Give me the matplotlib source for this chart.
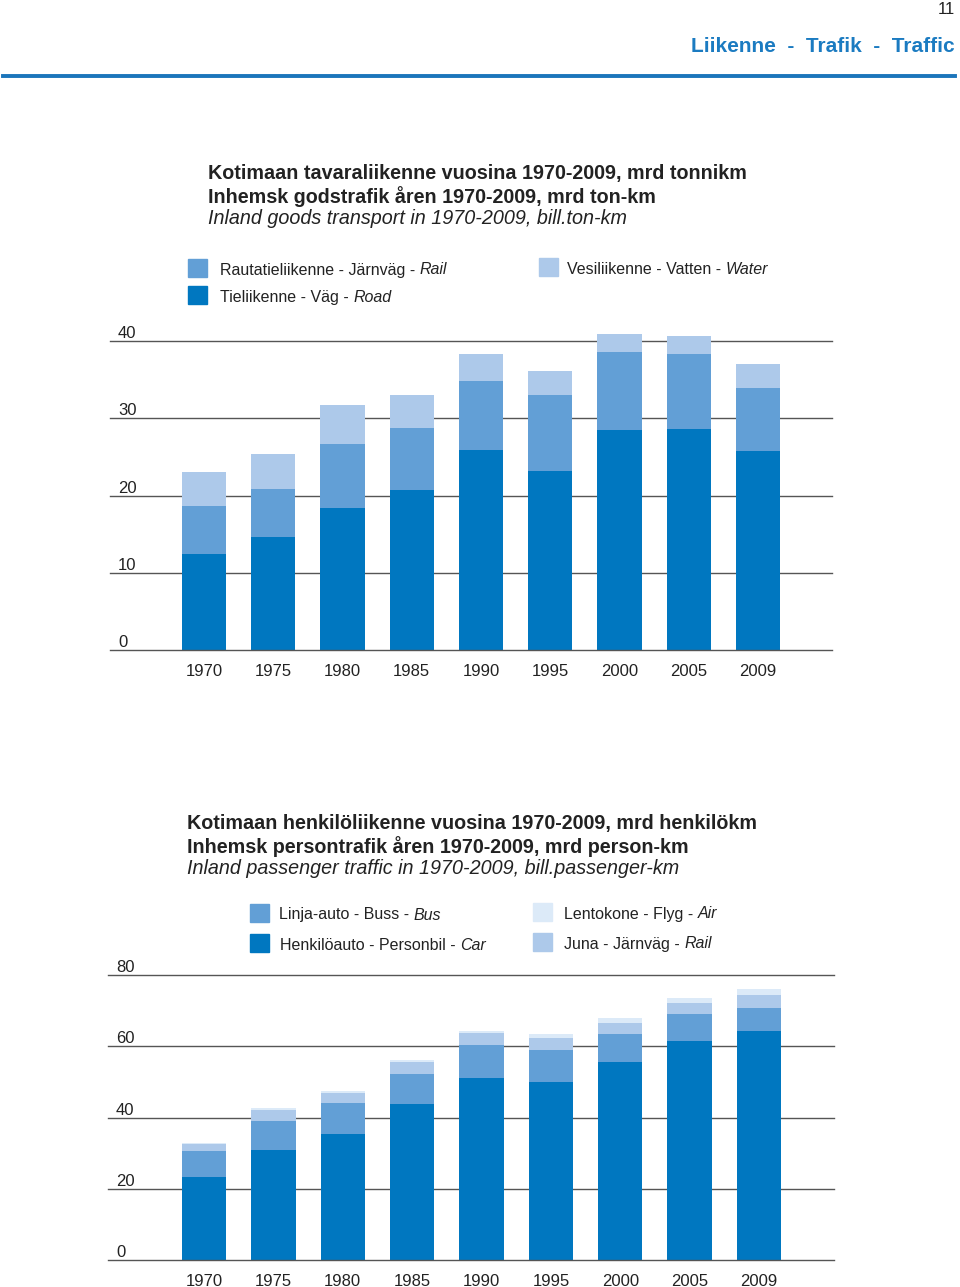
import matplotlib
matplotlib.use("Agg")
import matplotlib.pyplot as plt
from matplotlib.patches import Rectangle
import numpy as np

plt.rcParams['font.family'] = ['Liberation Sans', 'DejaVu Sans']

# data (billions)
years = ['1970', '1975', '1980', '1985', '1990', '1995', '2000', '2005', '2009']

goods_road = [12.4, 14.6, 18.4, 20.75, 25.9, 23.2, 28.5, 28.6, 25.75]
goods_rail = [6.2, 6.3, 8.3, 8.05, 8.9, 9.8, 10.1, 9.7, 8.25]
goods_water = [4.5, 4.5, 5.1, 4.2, 3.55, 3.2, 2.3, 2.4, 3.0]

pass_car = [23.4, 31.0, 35.5, 43.7, 51.1, 49.9, 55.7, 61.4, 64.3]
pass_bus = [7.1, 8.0, 8.5, 8.5, 9.2, 9.2, 7.9, 7.8, 6.6]
pass_rail = [2.2, 3.2, 2.9, 3.3, 3.35, 3.3, 3.1, 2.9, 3.5]
pass_air = [0.3, 0.45, 0.65, 0.75, 0.75, 1.0, 1.2, 1.5, 1.8]

goods_ticks = [0, 10, 20, 30, 40]
pass_ticks = [0, 20, 40, 60, 80]

C_DARK = '#0077c0'
C_MID = '#629fd6'
C_LIGHT = '#adc9ea'
C_PALE = '#dceaf8'
TXT = '#222222'

W, H = 960, 1287
fig = plt.figure(figsize=(W / 100, H / 100), dpi=100)


def fx(px):
    return px / W


def fy(py):
    return 1 - py / H


# page header
fig.text(fx(955), fy(10), '11', ha='right', va='center', fontsize=12, color=TXT)
fig.text(fx(955), fy(47), 'Liikenne  -  Trafik  -  Traffic', ha='right', va='center',
         fontsize=15, fontweight='bold', color='#1b7bc1')
fig.add_artist(plt.Line2D([fx(3), fx(955)], [fy(76), fy(76)], color='#1b75bb', lw=2.8))


def legend_item(x, y, color, plain, italic, gap=32):
    fig.add_artist(Rectangle((fx(x), fy(y + 18)), 19 / W, 18 / H, color=color,
                             transform=fig.transFigure))
    t = fig.text(fx(x + gap), fy(y + 11), plain, ha='left', va='center', fontsize=11.5, color=TXT)
    fig.canvas.draw()
    bb = t.get_window_extent()
    fig.text(bb.x1 / W, fy(y + 11), italic, ha='left', va='center', fontsize=11.5,
             color=TXT, style='italic')


def stacked(ax, series, colors, ticks, ymax, left, right):
    x = np.arange(len(years))
    bottom = np.zeros(len(years))
    for vals, c in zip(series, colors):
        ax.bar(x, vals, width=0.64, bottom=bottom, color=c, zorder=2)
        bottom += np.array(vals)
    for t in ticks:
        ax.axhline(t, color='#555555', lw=1, zorder=3 if t == 0 else 1, clip_on=False)
        ax.text(0.011, t, str(t), transform=ax.get_yaxis_transform(), ha='left',
                va='bottom', fontsize=12, color=TXT)
    ax.set_xlim(left, right)
    ax.set_ylim(0, ymax)
    ax.set_xticks(x)
    ax.set_xticklabels(years, fontsize=12, color=TXT)
    ax.tick_params(axis='x', length=0, pad=10)
    ax.set_yticks([])
    for s in ax.spines.values():
        s.set_visible(False)


# ---- goods transport ----
fig.text(fx(208), fy(174), 'Kotimaan tavaraliikenne vuosina 1970-2009, mrd tonnikm',
         fontsize=14.2, fontweight='bold', va='center', color=TXT)
fig.text(fx(208), fy(197), 'Inhemsk godstrafik åren 1970-2009, mrd ton-km',
         fontsize=14.2, fontweight='bold', va='center', color=TXT)
fig.text(fx(208), fy(219), 'Inland goods transport in 1970-2009, bill.ton-km',
         fontsize=14.2, style='italic', va='center', color=TXT)

legend_item(188, 259, C_MID, 'Rautatieliikenne - Järnväg - ', 'Rail')
legend_item(188, 286, C_DARK, 'Tieliikenne - Väg - ', 'Road')
legend_item(539, 258, C_LIGHT, 'Vesiliikenne - Vatten - ', 'Water', gap=28)

ymax1 = 41.5
ax1 = fig.add_axes([fx(110), fy(650), fx(832) - fx(110), ymax1 * 7.72 / H])
stacked(ax1, [goods_road, goods_rail, goods_water], [C_DARK, C_MID, C_LIGHT],
        goods_ticks, ymax1, -1.357, 9.07)

# ---- passenger traffic ----
fig.text(fx(187), fy(824), 'Kotimaan henkilöliikenne vuosina 1970-2009, mrd henkilökm',
         fontsize=14.2, fontweight='bold', va='center', color=TXT)
fig.text(fx(187), fy(847), 'Inhemsk persontrafik åren 1970-2009, mrd person-km',
         fontsize=14.2, fontweight='bold', va='center', color=TXT)
fig.text(fx(187), fy(869), 'Inland passenger traffic in 1970-2009, bill.passenger-km',
         fontsize=14.2, style='italic', va='center', color=TXT)

legend_item(250, 904, C_MID, 'Linja-auto - Buss - ', 'Bus', gap=29)
legend_item(250, 934, C_DARK, 'Henkilöauto - Personbil - ', 'Car', gap=30)
legend_item(533, 903, C_PALE, 'Lentokone - Flyg - ', 'Air', gap=31)
legend_item(533, 933, C_LIGHT, 'Juna - Järnväg - ', 'Rail', gap=31)

ymax2 = 80.5
ax2 = fig.add_axes([fx(108), fy(1260), fx(834) - fx(108), ymax2 * 3.56 / H])
stacked(ax2, [pass_car, pass_bus, pass_rail, pass_air], [C_DARK, C_MID, C_LIGHT, C_PALE],
        pass_ticks, ymax2, -1.383, 9.08)

fig.savefig('out.png', dpi=100)
